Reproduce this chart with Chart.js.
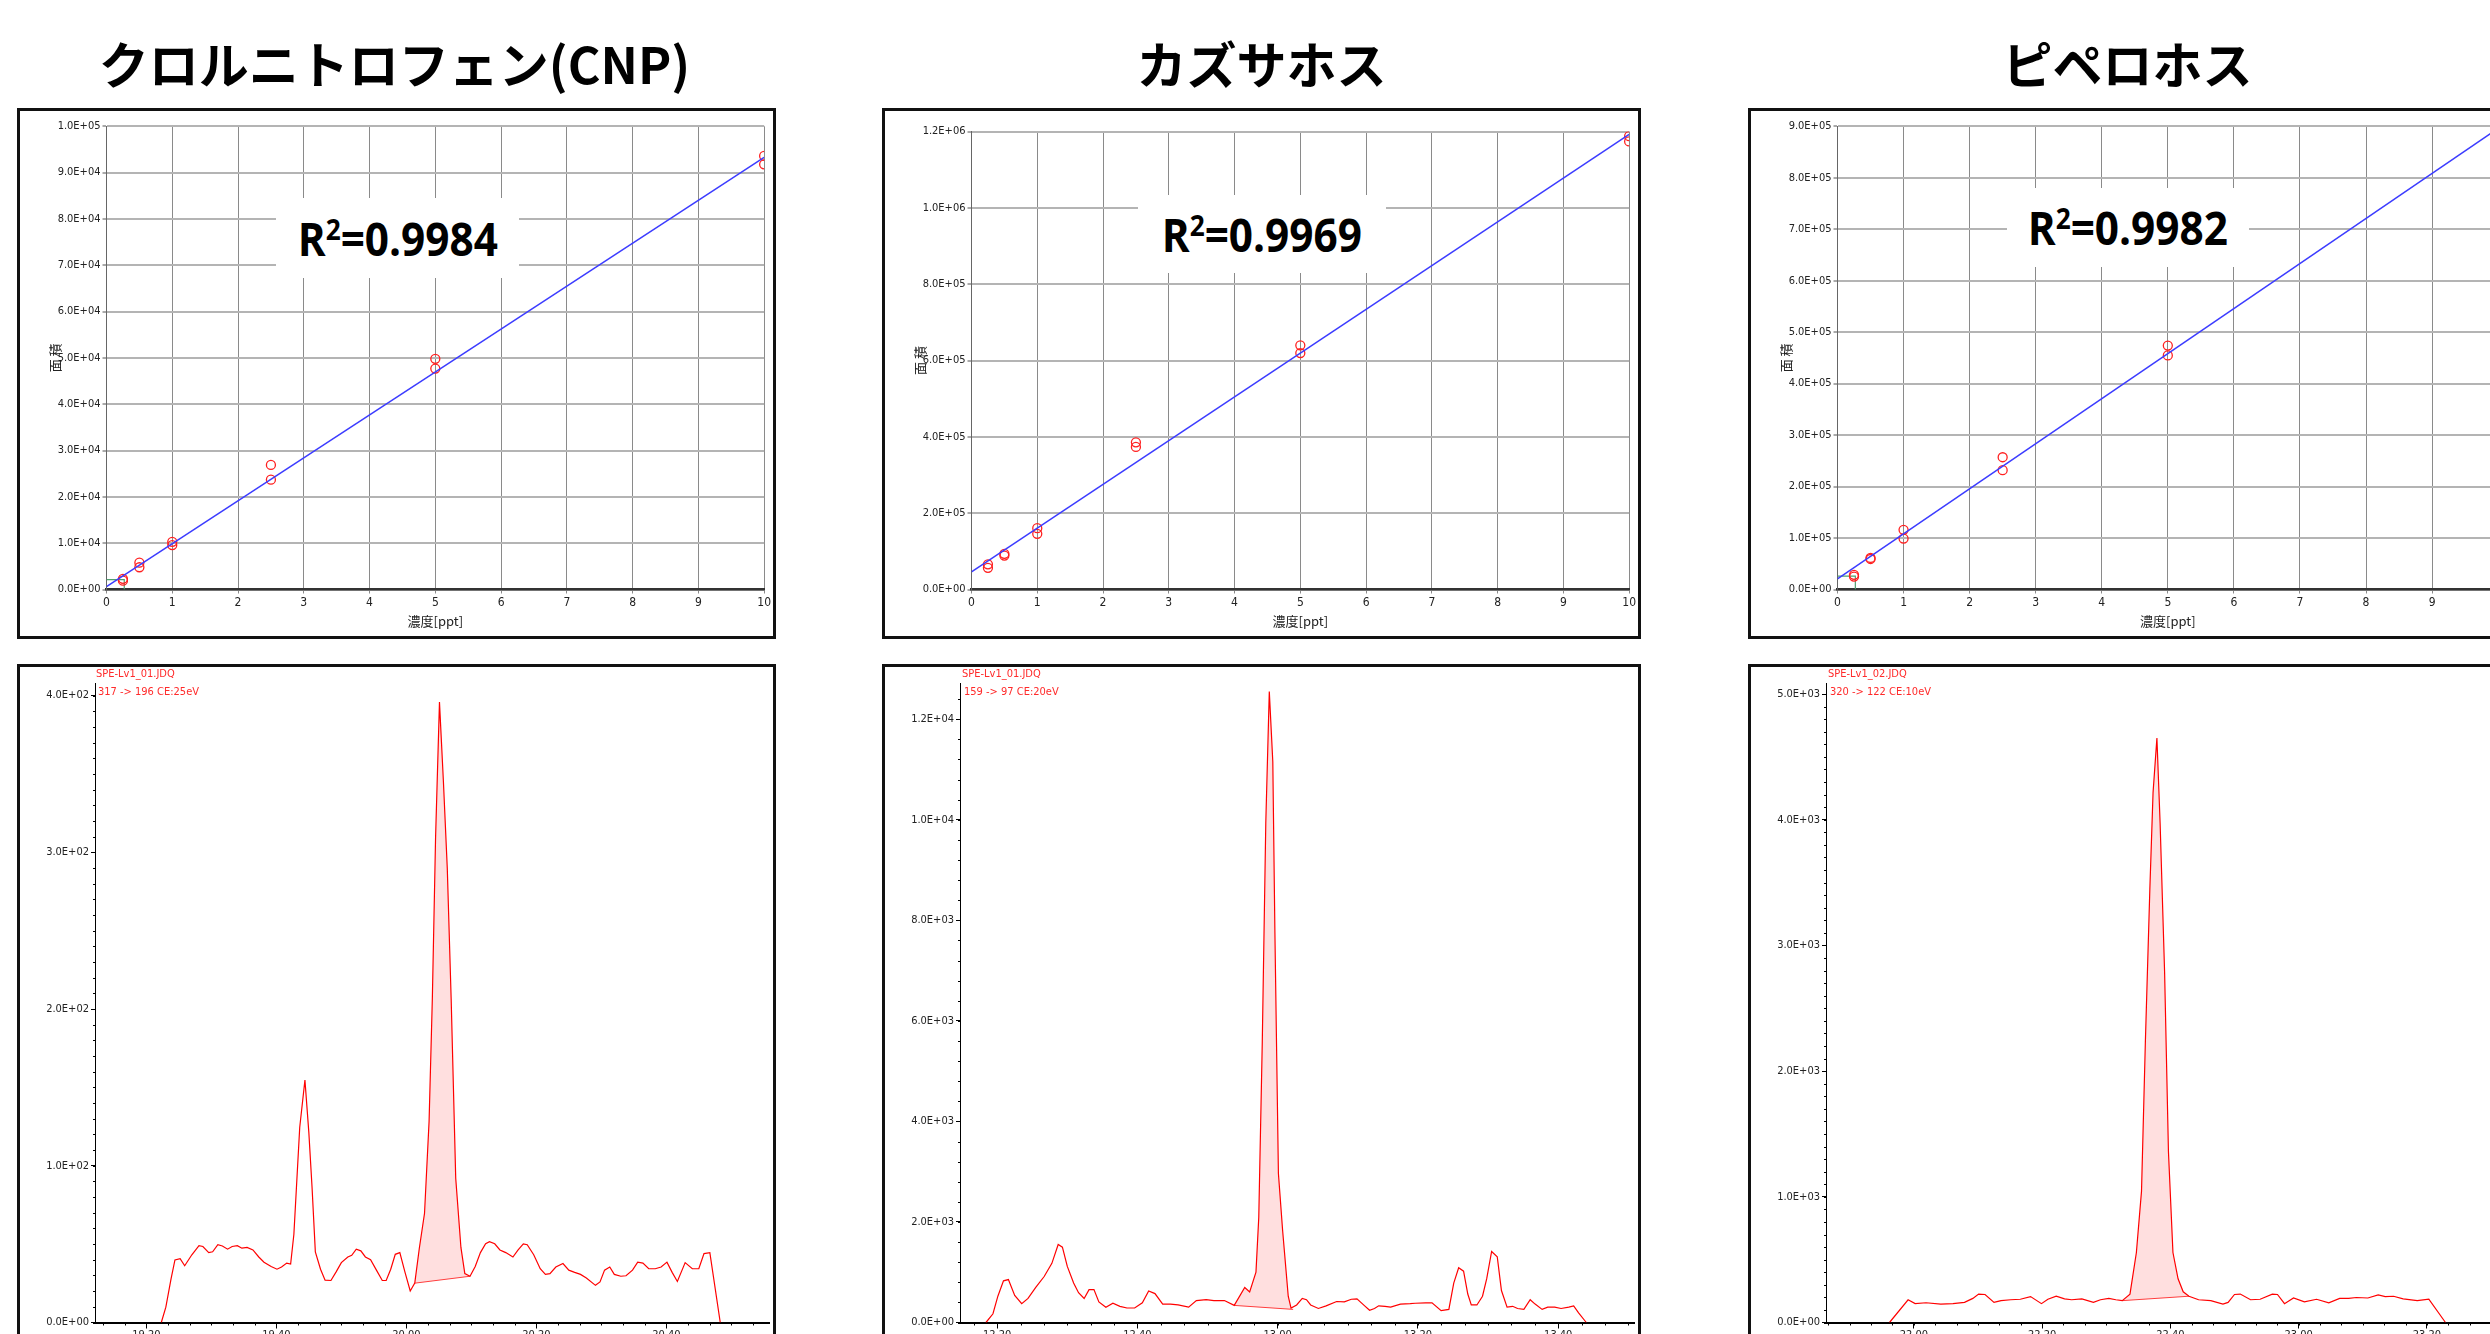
<!DOCTYPE html>
<html lang="ja">
<head>
<meta charset="utf-8">
<title>検量線とクロマトグラム</title>
<script src="https://cdn.jsdelivr.net/npm/chart.js@4.4.1/dist/chart.umd.min.js"></script>
<style>
html, body { margin: 0; padding: 0; background: #fff; }
body { width: 2490px; height: 1334px; overflow: hidden; position: relative; }
.title { position: absolute; top: 22px; width: 759px; text-align: center; font-family: 'Noto Sans CJK JP', sans-serif; font-weight: 700; font-size: 50px; line-height: 80px; color: #000; white-space: nowrap; }
.box { position: absolute; border: 3px solid #111; background: #fff; box-sizing: border-box; overflow: hidden; }
.box canvas { position: absolute; left: 0; top: 0; }
.r2 { position: absolute; background: #fff; font-family: 'Open Sans', sans-serif; font-weight: 700; font-size: 46px; text-align: center; color: #000; white-space: nowrap; }
.r2 span.t { display: inline-block; transform: scaleX(0.92); }
.r2 sup { font-size: 0.62em; vertical-align: 0.55em; line-height: 0; }
.tag { position: absolute; color: #ff2a2a; font-family: 'Liberation Sans Narrow', 'DejaVu Sans Condensed', sans-serif; font-size: 11px; line-height: 12px; white-space: nowrap; }
</style>
</head>
<body>

<div class="title" style="left:15px">クロルニトロフェン(CNP)</div>
<div class="title" style="left:882px">カズサホス</div>
<div class="title" style="left:1748px">ピペロホス</div>

<div class="box" style="left:17px; top:108px; width:759px; height:531px">
  <canvas id="cal1" width="753" height="525"></canvas>
  <div class="r2" style="left:256px; top:87px; width:243px; height:80px; line-height:80px"><span class="t">R<sup>2</sup>=0.9984</span></div>
</div>
<div class="box" style="left:882px; top:108px; width:759px; height:531px">
  <canvas id="cal2" width="753" height="525"></canvas>
  <div class="r2" style="left:253px; top:84px; width:248px; height:78px; line-height:78px"><span class="t">R<sup>2</sup>=0.9969</span></div>
</div>
<div class="box" style="left:1748px; top:108px; width:762px; height:531px">
  <canvas id="cal3" width="756" height="525"></canvas>
  <div class="r2" style="left:256px; top:77px; width:242px; height:79px; line-height:79px"><span class="t">R<sup>2</sup>=0.9982</span></div>
</div>

<div class="box" style="left:17px; top:664px; width:759px; height:720px">
  <canvas id="chr1" width="753" height="714"></canvas>
  <div class="tag" style="left:76px; top:1px">SPE-Lv1_01.JDQ</div>
  <div class="tag" style="left:78px; top:19px">317 -&gt; 196 CE:25eV</div>
</div>
<div class="box" style="left:882px; top:664px; width:759px; height:720px">
  <canvas id="chr2" width="753" height="714"></canvas>
  <div class="tag" style="left:77px; top:1px">SPE-Lv1_01.JDQ</div>
  <div class="tag" style="left:79px; top:19px">159 -&gt; 97 CE:20eV</div>
</div>
<div class="box" style="left:1748px; top:664px; width:759px; height:720px">
  <canvas id="chr3" width="753" height="714"></canvas>
  <div class="tag" style="left:77px; top:1px">SPE-Lv1_02.JDQ</div>
  <div class="tag" style="left:79px; top:19px">320 -&gt; 122 CE:10eV</div>
</div>

<script>
// 検量線 (濃度 ppt vs 面積), 2回測定
const concLevels = [0.25, 0.5, 1, 2.5, 5, 10];
const cnpAreaRun1 = [2300, 5800, 10300, 26900, 49800, 93600];
const cnpAreaRun2 = [1900, 4800, 9600, 23700, 47700, 91800];
const kzsAreaRun1 = [66100, 93600, 160700, 385600, 639900, 1188000];
const kzsAreaRun2 = [56900, 89000, 146000, 373700, 619700, 1174200];
const ppfAreaRun1 = [28600, 61400, 115900, 257000, 473900];
const ppfAreaRun2 = [25200, 59300, 98900, 231800, 454800];

// 回帰直線 (x=0 と x=10)
const fitX = [0, 10];
const cnpFit = [600, 93300];
const kzsFit = [45900, 1192600];
const ppfFit = [20500, 896000];

// 最低濃度の緑マーカー
const markerX = [0, 0.27, 0.27];
const cnpMarker = [2150, 2150, 0];
const ppfMarker = [25900, 25900, 0];

// クロマトグラム (時間 s, 強度)
const cnpTime = [1162.3,1163.0,1163.8,1164.4,1165.2,1165.9,1167.0,1168.1,1168.7,1169.6,1170.2,1171.0,1171.7,1172.5,1173.2,1174.0,1174.7,1175.5,1176.4,1177.3,1178.1,1179.2,1180.1,1180.8,1181.6,1182.2,1182.7,1183.6,1184.4,1185.0,1185.5,1186.0,1186.8,1187.5,1188.4,1189.2,1190.0,1191.0,1191.6,1192.3,1193.0,1193.7,1194.5,1195.4,1196.3,1196.9,1197.6,1198.3,1199.0,1199.8,1200.6,1201.3,1202.0,1202.8,1203.5,1204.0,1204.5,1205.1,1205.7,1206.3,1206.9,1207.6,1208.4,1209.0,1209.8,1210.6,1211.4,1212.2,1212.8,1213.6,1214.4,1215.3,1216.4,1217.2,1218.0,1218.6,1219.6,1220.6,1221.4,1222.1,1223.0,1224.1,1225.0,1225.9,1226.8,1227.7,1229.1,1229.8,1230.5,1231.3,1232.0,1233.0,1233.8,1234.8,1235.6,1236.4,1237.3,1238.3,1239.2,1240.1,1240.9,1241.7,1242.9,1244.0,1245.0,1245.8,1246.7,1248.3];
const cnpInt = [0,9.8,27.9,39.9,40.7,36.2,43.2,49,48.5,44.6,45.1,49.6,48.8,46.8,48.5,49,47.4,47.9,46.3,41.8,38.5,35.7,34,35.4,37.9,37.3,56.3,124.6,154.7,121.3,85.8,45.1,34,27,26.8,32.3,38.2,41.8,42.9,46.8,45.7,41.8,40.1,33.4,26.8,26.8,34,43.5,44.6,32,20.1,25.1,47.4,69.7,128.2,206.2,309.4,395.8,345.6,289.9,206.2,92,47.9,31.2,29.5,35.7,44.6,50.2,51.6,50.2,46.3,44.6,41.8,46.3,50.2,49.6,43.2,34.3,30.7,31.2,35.4,37.6,33.4,32,30.7,28.4,23.7,25.9,33.4,35.4,30.7,29.5,29.8,33.4,38.5,37.9,34.3,34.3,35.4,38.5,32,26.2,38.2,34.3,34.3,44,44.6,0];
const cnpBaseTime = [1201.3, 1209.8];
const cnpBaseInt = [25.1, 29.5];
const cnpTickTime = [1160, 1180, 1200, 1220, 1240];
const cnpTickLabels = ['19.20', '19.40', '20.00', '20.20', '20.40'];

const kzsTime = [738.4,739.4,740.1,740.9,741.6,742.5,743.5,744.4,745.5,746.7,747.8,748.7,749.3,750.0,750.9,751.6,752.4,753.1,753.8,754.5,755.5,756.5,757.5,758.5,759.6,760.7,761.6,762.5,763.6,764.7,765.8,767.3,768.4,769.8,770.9,772.4,773.8,775.3,776.0,776.9,777.3,777.8,778.3,778.8,779.3,779.6,780.1,780.7,781.5,781.9,782.7,783.5,784.1,784.7,785.8,786.9,788.4,789.5,790.5,791.3,792.4,793.1,793.8,794.4,795.3,796.1,797.5,798.9,799.6,801.1,802.0,803.3,804.4,805.1,805.8,806.5,807.1,807.6,808.4,809.2,809.8,810.5,811.3,811.9,812.7,813.5,814.2,815.1,816.0,816.7,817.7,818.5,819.5,820.4,821.5,822.2,822.9,824.0];
const kzsInt = [0,174,523,828,854,540,375,479,697,915,1177,1551,1499,1116,784,593,479,654,654,410,305,383,322,288,288,392,627,575,366,366,349,305,436,453,436,436,340,697,610,1002,2092,5578,9935,12550,11155,7756,2963,1830,523,288,349,479,453,349,279,331,418,410,462,471,331,244,279,331,322,305,366,375,383,392,392,235,261,784,1090,1020,566,349,349,523,872,1412,1307,636,305,322,279,261,453,366,261,305,305,279,305,331,192,0];
const kzsBaseTime = [773.8, 782.2];
const kzsBaseInt = [340, 261];
const kzsTickTime = [740, 760, 780, 800, 820];
const kzsTickLabels = ['12.20', '12.40', '13.00', '13.20', '13.40'];

const ppfTime = [1316.2,1319.1,1320.2,1321.9,1324.2,1326.1,1327.9,1329.2,1330.1,1331.1,1332.5,1333.6,1335.1,1336.6,1338.2,1339.9,1340.9,1342.2,1343.5,1344.6,1346.2,1348.0,1349.1,1350.4,1351.5,1352.5,1353.7,1354.7,1355.5,1356.1,1356.8,1357.3,1357.9,1358.4,1359.1,1359.7,1360.4,1361.2,1362.0,1362.9,1364.4,1366.3,1368.2,1369.0,1370.0,1370.9,1372.5,1374.0,1375.9,1376.7,1377.8,1379.2,1380.9,1382.8,1384.7,1386.4,1387.8,1389.0,1390.8,1392.4,1393.5,1394.8,1396.3,1398.5,1400.3,1402.9];
const ppfInt = [0,181,150,157,146,150,160,192,226,223,160,174,181,185,206,150,185,209,188,181,188,160,181,192,181,174,226,557,1045,2230,3449,4216,4651,3972,2787,1359,557,348,244,209,181,174,146,160,223,226,181,185,226,223,150,195,164,185,157,192,192,199,195,219,206,209,188,174,185,0];
const ppfBaseTime = [1352.5, 1362.9];
const ppfBaseInt = [174, 209];
const ppfTickTime = [1320, 1340, 1360, 1380, 1400];
const ppfTickLabels = ['22.00', '22.20', '22.40', '23.00', '23.20'];

// 細い書体があればそれを使う
function hasFont(name) {
    const c = document.createElement('canvas').getContext('2d');
    const sample = '1.0E+05 abcdefg';
    c.font = '20px monospace';
    const a = c.measureText(sample).width;
    c.font = "20px '" + name + "', monospace";
    return c.measureText(sample).width !== a;
}
const haveNarrow = hasFont('Liberation Sans Narrow');
const narrow = haveNarrow ? "'Liberation Sans Narrow', sans-serif" : "'DejaVu Sans Condensed', sans-serif";
const tickSize = haveNarrow ? 13 : 11;
const jp = "'Noto Sans CJK JP', sans-serif";

function sci(v) {
    if (v === 0) return '0.0E+00';
    let e = Math.floor(Math.log10(Math.abs(v)) + 1e-9);
    let m = v / Math.pow(10, e);
    if (Math.abs(m) >= 9.95) { m = m / 10; e += 1; }
    return m.toFixed(1) + 'E' + (e < 0 ? '-' : '+') + String(Math.abs(e)).padStart(2, '0');
}

function pts(xs, ys) {
    return ys.map((y, i) => ({ x: xs[i], y: y }));
}

function stepTicks(max, step) {
    const out = [];
    for (let v = 0; v <= max + 1e-6; v += step) out.push({ value: v });
    return out;
}

// 小目盛り (クロマトグラムの軸)
const minorTicks = {
    id: 'minorTicks',
    afterDraw(chart, args, opts) {
        const ctx = chart.ctx;
        const xs = chart.scales.x;
        const ys = chart.scales.y;
        ctx.save();
        ctx.strokeStyle = '#000';
        ctx.lineWidth = 1;
        ctx.beginPath();
        let v = opts.xFirst;
        while (v - opts.xStep >= xs.min) v -= opts.xStep;
        for (; v <= xs.max; v += opts.xStep) {
            const px = Math.round(xs.getPixelForValue(v)) + 0.5;
            ctx.moveTo(px, ys.bottom);
            ctx.lineTo(px, ys.bottom + 3);
        }
        for (let w = 0; w <= ys.max; w += opts.yStep) {
            const py = Math.round(ys.getPixelForValue(w)) + 0.5;
            ctx.moveTo(xs.left - 2, py);
            ctx.lineTo(xs.left, py);
        }
        ctx.stroke();
        ctx.restore();
    }
};

function makeCalibration(id, o) {
    const datasets = [
        { data: pts(fitX, o.fit), borderColor: '#3c3cff', borderWidth: 1.5, pointRadius: 0, fill: false },
        { data: pts(concLevels, o.run1), showLine: false, pointRadius: 4.5, pointBorderColor: '#ff2020', pointBackgroundColor: 'rgba(0,0,0,0)', pointBorderWidth: 1.3 },
        { data: pts(concLevels, o.run2), showLine: false, pointRadius: 4.5, pointBorderColor: '#ff2020', pointBackgroundColor: 'rgba(0,0,0,0)', pointBorderWidth: 1.3 }
    ];
    if (o.marker) {
        datasets.push({ data: pts(markerX, o.marker), borderColor: '#4f9f6f', borderWidth: 1.2, pointRadius: 0, fill: false });
    }
    return new Chart(document.getElementById(id), {
        type: 'line',
        data: { datasets: datasets },
        options: {
            responsive: false,
            animation: false,
            events: [],
            layout: { padding: { top: o.top, right: o.right || 7, left: 0, bottom: 0 } },
            plugins: { legend: { display: false }, tooltip: { enabled: false } },
            scales: {
                x: {
                    type: 'linear', min: 0, max: 10,
                    afterFit: s => { s.height = 46.5; },
                    ticks: { stepSize: 1, color: '#222', font: { family: narrow, size: tickSize + 1 }, padding: 2, maxRotation: 0 },
                    grid: { color: '#8a8a8a', lineWidth: 1, tickLength: 4 },
                    border: { color: '#333', width: 2.5 },
                    title: { display: true, text: '濃度[ppt]', color: '#222', font: { family: jp, size: 13 }, padding: { top: 0, bottom: 7 } }
                },
                y: {
                    type: 'linear', min: 0, max: o.max,
                    afterFit: s => { s.width = 86.5; },
                    afterBuildTicks: s => { s.ticks = stepTicks(o.max, o.step); },
                    ticks: { color: '#222', font: { family: narrow, size: tickSize }, padding: 2, callback: v => sci(v) },
                    grid: { color: '#b4b4b4', lineWidth: 2, tickLength: 4, tickColor: '#555', tickWidth: 1 },
                    border: { color: '#666', width: 1 },
                    title: { display: true, text: '面 積', color: '#222', font: { family: jp, size: 13 }, padding: { top: 27 } }
                }
            }
        }
    });
}

function makeChromatogram(id, o) {
    const peak = pts(o.time, o.inten).filter(p => p.x > o.baseTime[0] && p.x < o.baseTime[1]);
    const area = [{ x: o.baseTime[0], y: o.baseInt[0] }].concat(peak, [{ x: o.baseTime[1], y: o.baseInt[1] }]);
    return new Chart(document.getElementById(id), {
        type: 'line',
        data: {
            datasets: [
                { data: pts(o.time, o.inten), borderColor: '#ff0000', borderWidth: 1.2, pointRadius: 0, fill: false },
                { data: area, borderColor: 'rgba(0,0,0,0)', borderWidth: 1, pointRadius: 0, backgroundColor: 'rgba(255,40,40,0.15)', fill: '+1' },
                { data: pts(o.baseTime, o.baseInt), borderColor: '#ff4040', borderWidth: 1, pointRadius: 0, fill: false }
            ]
        },
        plugins: [minorTicks],
        options: {
            responsive: false,
            animation: false,
            events: [],
            layout: { padding: { top: 16, right: 4, left: 0, bottom: 0 } },
            plugins: {
                legend: { display: false }, tooltip: { enabled: false },
                minorTicks: { xFirst: o.tickTime[0], xStep: 20 / 6, yStep: o.minor }
            },
            scales: {
                x: {
                    type: 'linear', min: o.xMin, max: o.xMax,
                    afterFit: s => { s.height = 58.5; },
                    afterBuildTicks: s => { s.ticks = o.tickTime.map(v => ({ value: v })); },
                    ticks: { color: '#222', font: { family: narrow, size: tickSize }, padding: 0, maxRotation: 0, autoSkip: false, callback: (v, i) => o.tickLabels[i] },
                    grid: { drawOnChartArea: false, tickLength: 6, tickColor: '#000', tickWidth: 1 },
                    border: { color: '#000', width: 2 }
                },
                y: {
                    type: 'linear', min: 0, max: o.max,
                    afterFit: s => { s.width = 75; },
                    afterBuildTicks: s => { s.ticks = stepTicks(o.max, o.step); },
                    ticks: { color: '#222', font: { family: narrow, size: tickSize }, padding: 2, callback: v => sci(v) },
                    grid: { drawOnChartArea: false, tickLength: 4, tickColor: '#000', tickWidth: 1 },
                    border: { color: '#000', width: 1 }
                }
            }
        }
    });
}

makeCalibration('cal1', { run1: cnpAreaRun1, run2: cnpAreaRun2, fit: cnpFit, marker: cnpMarker, max: 100000, step: 10000, top: 15.3 });
makeCalibration('cal2', { run1: kzsAreaRun1, run2: kzsAreaRun2, fit: kzsFit, max: 1200000, step: 200000, top: 20.6 });
makeCalibration('cal3', { run1: ppfAreaRun1, run2: ppfAreaRun2, fit: ppfFit, marker: ppfMarker, max: 900000, step: 100000, top: 15.3, right: 4 });

makeChromatogram('chr1', { time: cnpTime, inten: cnpInt, baseTime: cnpBaseTime, baseInt: cnpBaseInt, tickTime: cnpTickTime, tickLabels: cnpTickLabels, xMin: 1152.1, xMax: 1255.8, max: 408, step: 100, minor: 10 });
makeChromatogram('chr2', { time: kzsTime, inten: kzsInt, baseTime: kzsBaseTime, baseInt: kzsBaseInt, tickTime: kzsTickTime, tickLabels: kzsTickLabels, xMin: 734.7, xMax: 830.8, max: 12720, step: 2000, minor: 400 });
makeChromatogram('chr3', { time: ppfTime, inten: ppfInt, baseTime: ppfBaseTime, baseInt: ppfBaseInt, tickTime: ppfTickTime, tickLabels: ppfTickLabels, xMin: 1306.3, xMax: 1411.4, max: 5088, step: 1000, minor: 100 });
</script>
</body>
</html>
